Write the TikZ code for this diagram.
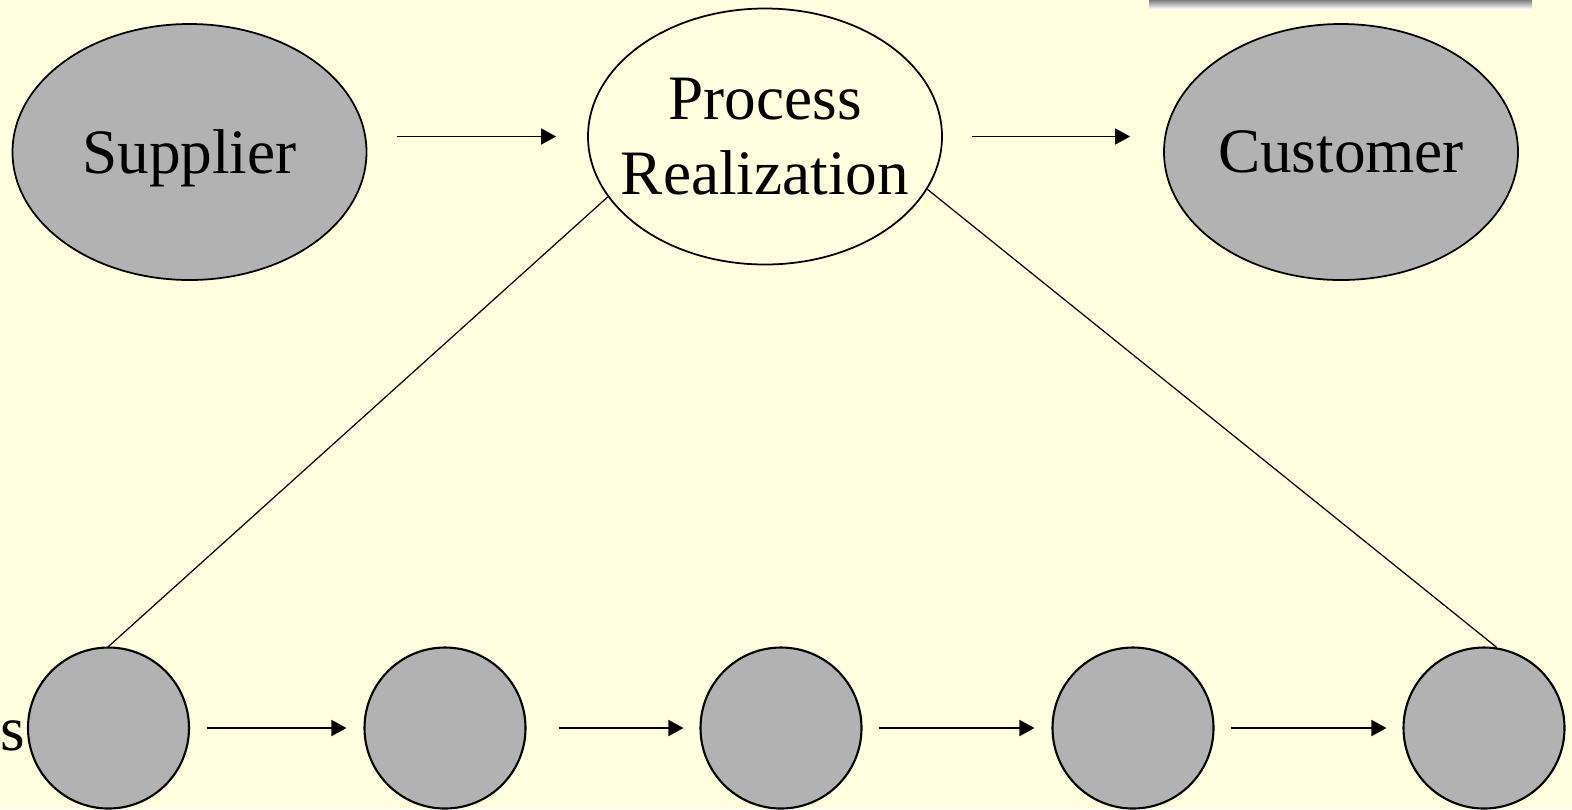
\documentclass[tikz,border=0pt]{standalone}
\usepackage{fontspec}
\setmainfont{Liberation Serif}
\usetikzlibrary{shapes.geometric,arrows.meta}
\definecolor{paper}{HTML}{FFFFE0}
\definecolor{shade}{HTML}{B2B2B2}
\begin{document}
\begin{tikzpicture}[
    every node/.style={font=\fontsize{36}{43}\selectfont},
    oval/.style={ellipse,draw,line width=1pt,minimum width=7.08cm,minimum height=5.12cm,inner xsep=-0.45cm,inner ysep=0pt},
    sub/.style={circle,draw,fill=shade,line width=1.2pt,minimum size=3.22cm,inner sep=0pt},
    flow/.style={-{Triangle[length=0.3cm,width=0.32cm]},line width=1pt},
    link/.style={line width=0.7pt}
]
    \fill[paper] (0,0) rectangle (31.44,-16.18);
    \useasboundingbox (0,0) rectangle (31.44,-16.18);
    \fill[shade] (22.98,0) rectangle (30.64,-0.18);

    \node[oval,fill=shade,text depth=0pt] at (3.79,-3.04) (supplier) {Supplier};
    \node[oval,align=center] at (15.3,-2.73) (process) {Process\\Realization};
    \node[oval,fill=shade,text depth=0pt] at (26.82,-3.04) (customer) {Customer};
    \draw[flow,shorten <=0.6cm,shorten >=0.62cm] (supplier.east |- process) -- (process.west);
    \draw[flow,shorten <=0.58cm,shorten >=0.66cm] (process.east) -- (customer.west |- process);

    \foreach \x [count=\i] in {2.17,8.9,15.62,22.66,29.68}
        \node[sub] at (\x,-14.56) (sub\i) {};
    \draw[flow,shorten <=0.33cm,shorten >=0.34cm] (sub1) -- (sub2);
    \draw[flow,shorten <=0.64cm,shorten >=0.32cm] (sub2) -- (sub3);
    \draw[flow,shorten <=0.32cm,shorten >=0.34cm] (sub3) -- (sub4);
    \draw[flow,shorten <=0.32cm,shorten >=0.32cm] (sub4) -- (sub5);

    \draw[link] (process.201.5) -- (sub1.north);
    \draw[link] (process.342.5) -- (sub5.81);

    \node[anchor=base west,inner sep=0pt] at (0,-15.0) (tail) {s};
\end{tikzpicture}
\end{document}
